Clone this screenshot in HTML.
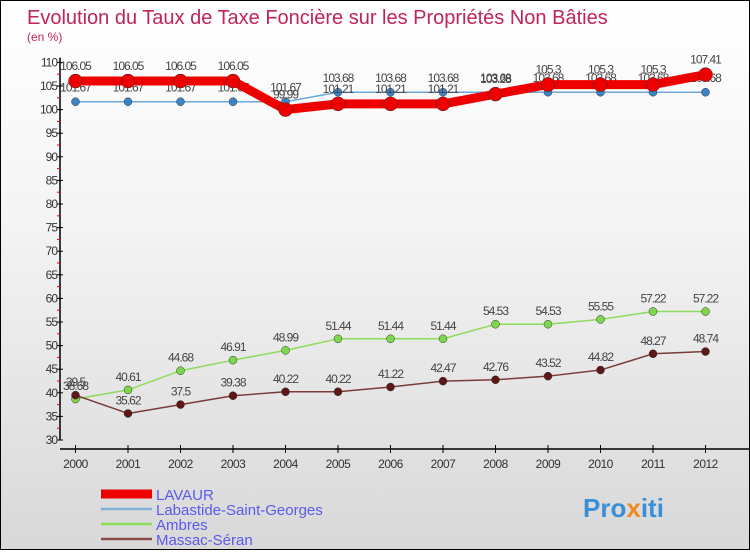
<!DOCTYPE html>
<html><head><meta charset="utf-8">
<style>
html,body{margin:0;padding:0;}
body{width:750px;height:550px;overflow:hidden;font-family:"Liberation Sans",sans-serif;}
#wrap{position:relative;width:748px;height:548px;border:1px solid #000;background:linear-gradient(#ffffff 0%,#f4f4f4 40%,#d8d8d8 100%);}
svg text{font-family:"Liberation Sans",sans-serif;}
</style></head>
<body>
<div id="wrap">
<svg id="chart" width="748" height="548">
<text x="26" y="23" font-size="20" fill="#c0245a">Evolution du Taux de Taxe Foncière sur les Propriétés Non Bâties</text>
<text x="26" y="40" font-size="12" fill="#c0245a">(en %)</text>
<g id="axes"></g>
<g id="series"></g>
<g id="legend"></g>
<text x="582" y="516" font-size="26" font-weight="bold" fill="#3a8fd6">Pro<tspan fill="#f08a1c">x</tspan>iti</text>
</svg>
</div>
<script>
const years = ["2000","2001","2002","2003","2004","2005","2006","2007","2008","2009","2010","2011","2012"];
const yTicks = [30,35,40,45,50,55,60,65,70,75,80,85,90,95,100,105,110];
const lavaur = [106.05,106.05,106.05,106.05,99.99,101.21,101.21,101.21,103.28,105.3,105.3,105.3,107.41];
const labastide = [101.67,101.67,101.67,101.67,101.67,103.68,103.68,103.68,103.68,103.68,103.68,103.68,103.68];
const ambres = [38.68,40.61,44.68,46.91,48.99,51.44,51.44,51.44,54.53,54.53,55.55,57.22,57.22];
const massac = [39.5,35.62,37.5,39.38,40.22,40.22,41.22,42.47,42.76,43.52,44.82,48.27,48.74];
const seriesNames = ["LAVAUR","Labastide-Saint-Georges","Ambres","Massac-Séran"];

const NS="http://www.w3.org/2000/svg";
function xS(i){return 74.5+i*52.5;}
function yS(v){return 439-(v-30)*4.72;}
function mk(tag,attrs,parent){const e=document.createElementNS(NS,tag);for(const k in attrs)e.setAttribute(k,attrs[k]);parent.appendChild(e);return e;}
const axes=document.getElementById('axes'),ser=document.getElementById('series'),leg=document.getElementById('legend');

let a=mk('line',{x1:59,y1:yS(111),x2:59,y2:yS(30),stroke:'#000','stroke-width':1.5},axes);


let b=mk('line',{x1:59,y1:448,x2:748,y2:448,stroke:'#000','stroke-width':1.5},axes);


yTicks.forEach(v=>{
  const t=mk('line',{x1:56,y1:yS(v),x2:62,y2:yS(v),stroke:'#000'},axes);
  
  
  if(v<110){const m=mk('line',{x1:56,y1:yS(v+2.5),x2:59,y2:yS(v+2.5),stroke:'#e00'},axes);
  
  }
  const l=mk('text',{x:56,y:yS(v)+4,'font-size':12,fill:'#333','text-anchor':'end','letter-spacing':'-1'},axes);
  l.textContent=v;
  
  
});
years.forEach((y,i)=>{
  const t=mk('line',{x1:xS(i),y1:444,x2:xS(i),y2:452,stroke:'#000'},axes);
  
  
  const l=mk('text',{x:xS(i),y:467,'font-size':12,fill:'#333','text-anchor':'middle','letter-spacing':'-0.5'},axes);
  l.textContent=y;
  
  
});

function drawSeries(data,color,width,r,fill,name,labelDy){
  const g=mk('g',{},ser);
  
  
  const p=mk('polyline',{points:data.map((v,i)=>xS(i)+','+yS(v)).join(' '),fill:'none',stroke:color,'stroke-width':width,'stroke-linejoin':'round'},g);
  
  
  data.forEach((v,i)=>{
    const c=mk('circle',{cx:xS(i),cy:yS(v),r:r,fill:fill,stroke:'#333','stroke-width':0.5},g);
    
    
    const t=mk('text',{x:xS(i),y:yS(v)+labelDy,'font-size':12,fill:'#444','text-anchor':'middle','letter-spacing':'-1'},g);
    t.textContent=String(v);
    
    
  });
}
drawSeries(labastide,'#6ea8d8',1.5,4,'#3a85c6','labastide',-10);
drawSeries(ambres,'#8edc5c',1.5,4,'#7ed64a','ambres',-9);
drawSeries(massac,'#7a3b3b',1.5,4,'#5e1616','massac',-9);
drawSeries(lavaur,'#ee0000',9,7,'#ee0000','lavaur',-11);

const legColors=['#ee0000','#7fb0d6','#8edc5c','#8a4a4a'];
const legW=[9,2.5,2.5,2.5];
seriesNames.forEach((n,i)=>{
  const y=493+i*15;
  const l=mk('line',{x1:100,y1:y,x2:151,y2:y,stroke:legColors[i],'stroke-width':legW[i]},leg);
  
  
  const t=mk('text',{x:155,y:y+6,'font-size':15,fill:'#5a5aee'},leg);
  t.textContent=n;
  
  
});
</script>
</body></html>
